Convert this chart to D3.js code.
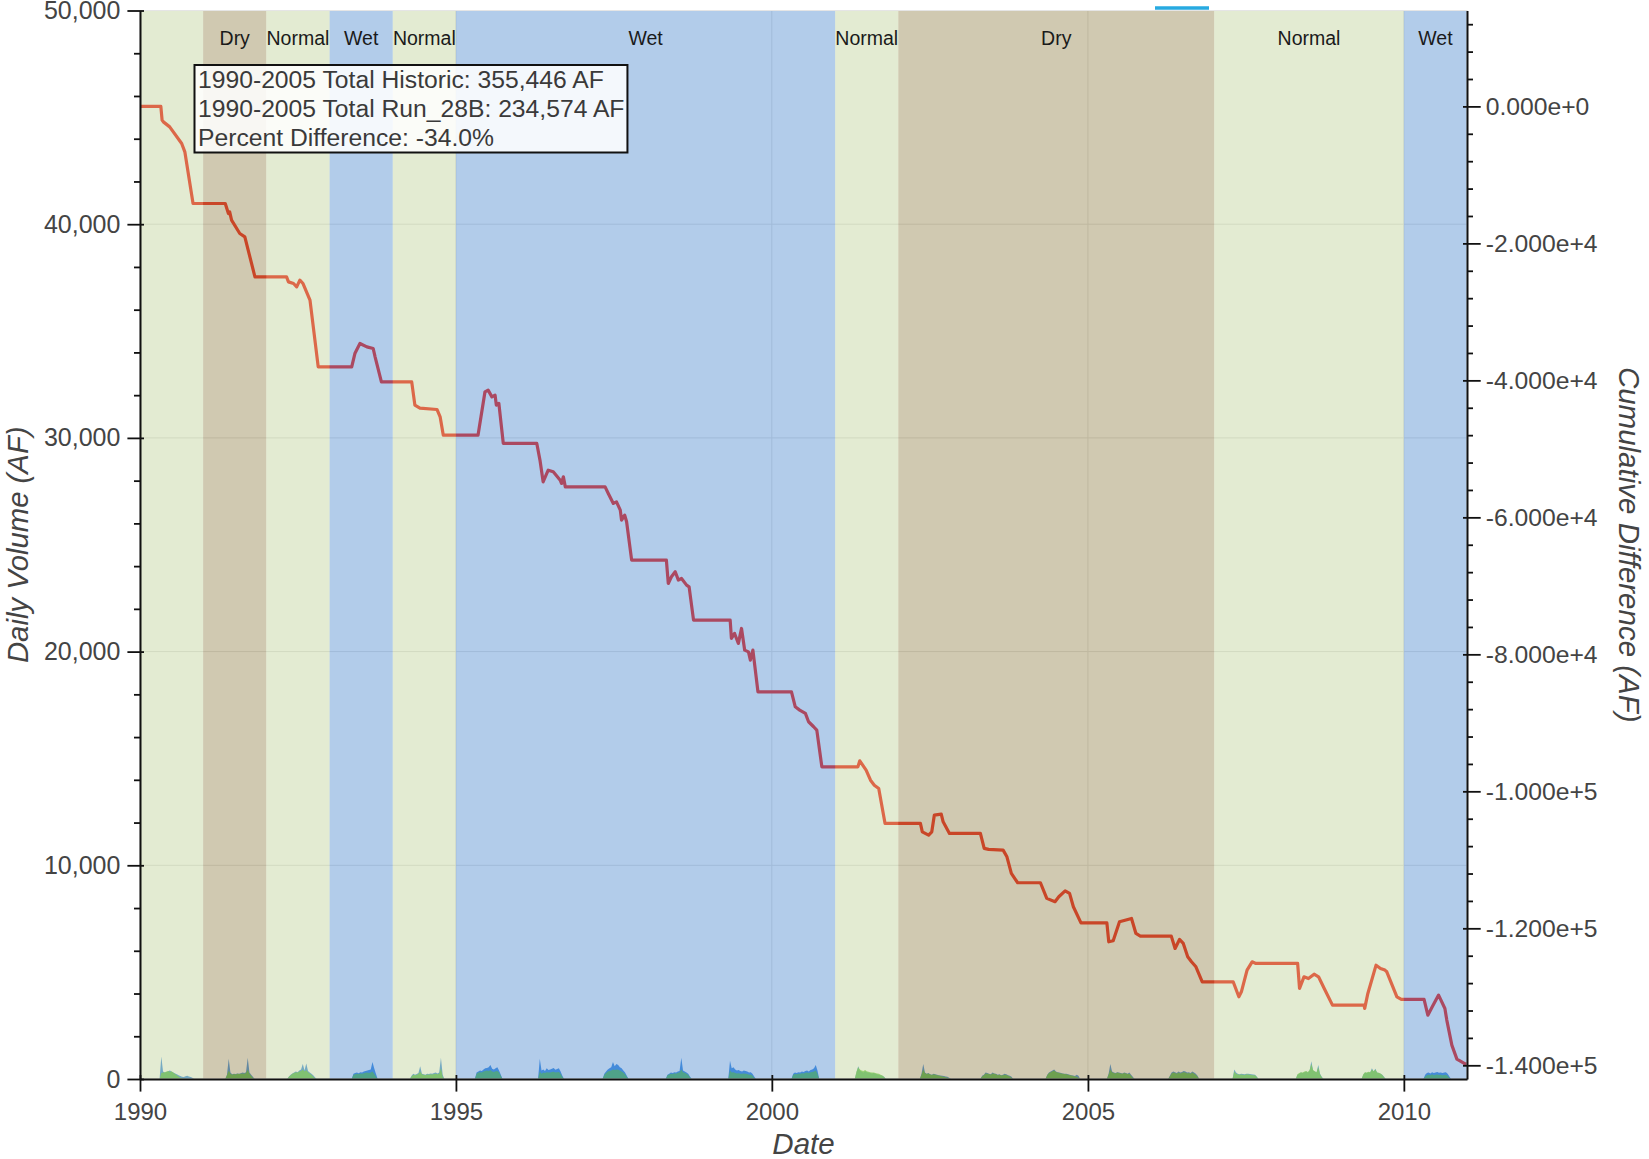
<!DOCTYPE html>
<html>
<head>
<meta charset="utf-8">
<script src="https://cdn.jsdelivr.net/npm/d3@7"></script>
<style>
  body { margin: 0; background: #fff; }
  text { font-family: "Liberation Sans", Arial, sans-serif; }
</style>
</head>
<body>
<svg id="chart" width="1649" height="1159"></svg>
<script>
// x ticks (years)
const yearTicks = [1990, 1995, 2000, 2005, 2010];

// water year type bands
const regionStart = [1990, 1991, 1992, 1993, 1994, 1995, 2001, 2002, 2007, 2010];
const regionEnd   = [1991, 1992, 1993, 1994, 1995, 2001, 2002, 2007, 2010, 2011];
const regionType  = ["Normal", "Dry", "Normal", "Wet", "Normal", "Wet", "Normal", "Dry", "Normal", "Wet"];
const regionLabel = ["", "Dry", "Normal", "Wet", "Normal", "Wet", "Normal", "Dry", "Normal", "Wet"];

// cumulative difference (AF), dates as decimal years
const diffYear = [
  1990.00, 1990.33, 1990.35, 1990.37, 1990.47, 1990.66, 1990.71, 1990.84,
  1991.35, 1991.40, 1991.42, 1991.45, 1991.58, 1991.66, 1991.82,
  1992.32, 1992.35, 1992.43, 1992.48, 1992.53, 1992.58, 1992.69, 1992.82,
  1993.35, 1993.40, 1993.48, 1993.59, 1993.69, 1993.72, 1993.82,
  1994.30, 1994.35, 1994.43, 1994.70, 1994.75, 1994.80,
  1995.35, 1995.46, 1995.51, 1995.57, 1995.62, 1995.64, 1995.68, 1995.75,
  1996.28, 1996.33, 1996.38, 1996.46, 1996.54, 1996.65, 1996.67, 1996.70, 1996.73,
  1997.36, 1997.41, 1997.49, 1997.54, 1997.60, 1997.62, 1997.67, 1997.70, 1997.78,
  1998.33, 1998.36, 1998.41, 1998.47, 1998.52, 1998.57, 1998.65, 1998.69, 1998.76,
  1999.34, 1999.36, 1999.41, 1999.47, 1999.52, 1999.57, 1999.63, 1999.66, 1999.70, 1999.78,
  2000.31, 2000.37, 2000.44, 2000.53, 2000.58, 2000.66, 2000.71, 2000.79,
  2001.36, 2001.39, 2001.49, 2001.56, 2001.62, 2001.69, 2001.79,
  2002.35, 2002.38, 2002.48, 2002.53, 2002.57, 2002.68, 2002.71, 2002.81,
  2003.30, 2003.36, 2003.43, 2003.66, 2003.72, 2003.79, 2003.89,
  2004.25, 2004.35, 2004.48, 2004.54, 2004.64, 2004.71, 2004.77, 2004.89,
  2005.30, 2005.33, 2005.40, 2005.50, 2005.69, 2005.76, 2005.83,
  2006.32, 2006.38, 2006.45, 2006.51, 2006.58, 2006.64, 2006.71, 2006.81,
  2007.30, 2007.39, 2007.43, 2007.52, 2007.60, 2007.66,
  2008.32, 2008.35, 2008.42, 2008.49, 2008.58, 2008.65, 2008.74, 2008.87,
  2009.37, 2009.38, 2009.43, 2009.56, 2009.63, 2009.70, 2009.73, 2009.89, 2009.96,
  2010.32, 2010.38, 2010.45, 2010.55, 2010.65, 2010.68, 2010.76, 2010.84, 2010.97, 2011.00
];
const diffValue = [
  0, 0, -2000, -2260, -2990, -5420, -6640, -14175,
  -14175, -15640, -15400, -16610, -18560, -19050, -24890,
  -24890, -25620, -25860, -26350, -25370, -25860, -28290, -38030,
  -38030, -36080, -34610, -35110, -35350, -36570, -40220,
  -40220, -43620, -44060, -44250, -45320, -48000,
  -48000, -41680, -41430, -42410, -42160, -43620, -43370, -49210,
  -49210, -51640, -54810, -53110, -53350, -54570, -55050, -54080, -55550,
  -55550, -56510, -57970, -57730, -58940, -60400, -59670, -60650, -66250,
  -66250, -69650, -68680, -67950, -69160, -68920, -69900, -70150, -75010,
  -75010, -77680, -76950, -78410, -76220, -79390, -79640, -80850, -79390, -85470,
  -85470, -87660, -88140, -88620, -89840, -90570, -91060, -96420,
  -96420, -95550, -96910, -98370, -99100, -99590, -104690,
  -104690, -105910, -106400, -105910, -103480, -103330, -104450, -106150,
  -106150, -108330, -108480, -108580, -109560, -111990, -113350,
  -113350, -115630, -116120, -115390, -114530, -114900, -116860, -119200,
  -119200, -121970, -121820, -119050, -118560, -120750, -121140,
  -121140, -122940, -121630, -122210, -124160, -124890, -125620, -127810,
  -127810, -130000, -129270, -126100, -124890, -125130,
  -125130, -128780, -127080, -127330, -126700, -127080, -128780, -131210,
  -131210, -131700, -129510, -125380, -125860, -126100, -126350, -130000, -130380,
  -130380, -132680, -131460, -129750, -131700, -133400, -137050, -139100, -139790, -139800
];

// daily volume pulses, 10-day samples starting at pulseStart (decimal year)
const pulseStart = [1990.31, 1991.35, 1992.33, 1993.35, 1994.27, 1995.30, 1996.30, 1997.32, 1998.32, 1999.31,
                    2000.31, 2001.31, 2002.34, 2003.30, 2004.33, 2005.30, 2006.27, 2007.29, 2008.29, 2009.33, 2010.31];
const historicPulses = [
  [0,1050,350,300,330,360,400,340,300,260,220,180,140,110,90,130,150,120,90,60,0],
  [0,200,950,300,220,250,230,260,240,270,300,280,320,1000,300,200,100,0],
  [0,120,200,260,300,350,320,400,450,700,400,720,380,300,250,180,80,0],
  [0,250,280,300,270,320,300,350,380,400,420,450,800,500,250,0],
  [0,150,250,200,230,280,600,250,220,200,240,230,260,250,280,300,260,300,1000,200,0],
  [0,300,350,400,380,450,500,520,550,650,480,450,500,550,400,200,0],
  [0,950,400,450,380,500,420,450,480,520,430,470,500,350,150,0],
  [0,250,350,450,500,550,800,600,700,650,550,500,400,300,150,0],
  [0,200,250,300,280,320,300,350,380,1000,400,350,300,250,120,0],
  [0,850,500,550,450,400,420,380,350,400,380,350,300,320,250,120,0],
  [0,250,300,280,320,300,350,330,380,400,350,420,450,500,650,400,0],
  [0,300,600,400,350,300,380,320,300,280,260,280,250,220,200,180,150,100,0],
  [0,250,700,300,250,280,220,200,240,220,200,180,160,150,140,120,100,60,0],
  [0,150,200,300,280,250,220,300,260,240,200,220,180,200,250,220,180,150,100,0],
  [0,200,300,350,400,450,350,320,300,280,260,250,240,220,200,180,160,140,200,150,0],
  [0,250,700,350,300,280,320,300,280,260,300,280,250,300,200,100,0],
  [0,150,300,350,320,280,350,300,330,380,350,300,320,280,350,300,250,150,0],
  [0,450,300,250,220,240,230,220,250,240,230,220,210,200,120,0],
  [0,200,250,300,280,320,350,300,400,830,400,350,300,650,250,100,0],
  [0,200,300,280,320,300,500,350,480,300,280,250,200,100,0],
  [0,200,280,300,260,320,280,300,330,290,310,280,300,320,250,120,0]
];
const runPulses = [
  [0,280,300,320,350,380,330,360,290,230,180,120,60,30,20,10,0,0,0,0,0],
  [0,180,400,250,200,230,210,240,230,250,260,250,280,450,250,150,60,0],
  [0,100,180,240,280,320,300,350,380,450,350,420,320,260,200,120,40,0],
  [0,200,220,240,230,260,250,270,290,300,280,300,350,250,120,0],
  [0,120,200,180,200,230,350,220,200,180,210,200,220,210,230,250,220,240,500,100,0],
  [0,250,300,320,300,350,380,400,380,420,350,330,360,380,300,150,0],
  [0,350,250,300,280,320,300,310,330,340,300,320,330,250,100,0],
  [0,200,280,350,380,400,450,420,450,430,400,350,300,220,100,0],
  [0,170,210,250,230,270,250,290,310,450,320,290,250,200,80,0],
  [0,400,300,320,280,260,270,250,240,260,250,230,200,210,160,60,0],
  [0,200,230,220,250,240,270,260,290,300,280,320,330,350,400,250,0],
  [0,350,550,450,400,380,420,360,340,320,300,310,280,260,240,200,160,90,0],
  [0,200,450,280,230,260,210,190,220,200,180,160,140,120,100,80,60,30,0],
  [0,120,180,260,250,230,200,260,240,220,180,200,160,180,200,190,150,120,60,0],
  [0,180,280,320,360,400,330,300,280,260,240,230,220,200,180,160,140,120,100,60,0],
  [0,200,450,320,280,260,300,280,260,240,280,260,230,250,150,60,0],
  [0,120,260,300,280,250,300,260,290,320,300,260,280,240,300,250,200,100,0],
  [0,350,250,220,200,210,200,190,220,210,200,190,180,170,90,0],
  [0,220,280,320,300,350,380,330,420,700,420,360,320,550,220,80,0],
  [0,220,320,300,340,320,450,360,440,310,290,260,190,80,0],
  [0,120,180,200,170,220,180,200,210,190,200,180,190,200,150,60,0]
];

const leftTicks = [0, 10000, 20000, 30000, 40000, 50000];
const rightTicks = [0, -20000, -40000, -60000, -80000, -100000, -120000, -140000];

const summaryLines = [
  "1990-2005 Total Historic: 355,446 AF",
  "1990-2005 Total Run_28B: 234,574 AF",
  "Percent Difference: -34.0%"
];

const regionColors = { Normal: "rgb(175,198,126)", Dry: "rgb(121,101,32)", Wet: "rgb(35,109,195)" };

function yearToDate(y) {
  const yr = Math.floor(y);
  const a = new Date(yr, 0, 1), b = new Date(yr + 1, 0, 1);
  return new Date(+a + (y - yr) * (b - a));
}

function buildChart() {
  const width = 1649, height = 1159;
  const margin = { top: 10.5, right: 182, bottom: 80, left: 140 };
  const svg = d3.select("#chart");

  const x = d3.scaleTime()
    .domain([yearToDate(1990), yearToDate(2011)])
    .range([margin.left, width - margin.right]);
  const yLeft = d3.scaleLinear()
    .domain([0, 50000])
    .range([height - margin.bottom, margin.top]);
  const yRight = d3.scaleLinear()
    .domain([-142000, 14000])
    .range([height - margin.bottom, margin.top]);

  // grid
  const grid = svg.append("g").attr("stroke", "#e5e5e5").attr("stroke-width", 1);
  grid.selectAll(".hg").data(leftTicks).join("line")
    .attr("x1", margin.left).attr("x2", width - margin.right)
    .attr("y1", d => yLeft(d)).attr("y2", d => yLeft(d));
  grid.selectAll(".vg").data(yearTicks).join("line")
    .attr("x1", d => x(yearToDate(d))).attr("x2", d => x(yearToDate(d)))
    .attr("y1", margin.top).attr("y2", height - margin.bottom);

  // daily volume areas
  const area = d3.area()
    .x(d => x(d.date))
    .y0(yLeft(0))
    .y1(d => yLeft(d.v));
  const toPoints = (vals, i) => vals.map((v, j) => ({ date: yearToDate(pulseStart[i] + j * 10 / 365.25), v }));

  svg.append("g").selectAll("path").data(historicPulses).join("path")
    .attr("fill", "rgb(45,130,225)")
    .attr("fill-opacity", 0.8)
    .attr("d", (vals, i) => area(toPoints(vals, i)));
  svg.append("g").selectAll("path").data(runPulses).join("path")
    .attr("fill", "rgb(110,205,65)")
    .attr("fill-opacity", 0.75)
    .attr("d", (vals, i) => area(toPoints(vals, i)));

  // cumulative difference line
  const diffData = diffYear.map((yr, i) => ({ date: yearToDate(yr), v: diffValue[i] }));
  const line = d3.line()
    .x(d => x(d.date))
    .y(d => yRight(d.v));
  svg.append("path")
    .datum(diffData)
    .attr("fill", "none")
    .attr("stroke", "rgb(245,55,45)")
    .attr("stroke-width", 3.2)
    .attr("stroke-linejoin", "round")
    .attr("d", line);

  // year type overlays
  const regions = regionStart.map((s, i) => ({ s, e: regionEnd[i], type: regionType[i], label: regionLabel[i] }));
  svg.append("g").selectAll("rect").data(regions).join("rect")
    .attr("x", d => x(yearToDate(d.s)))
    .attr("width", d => x(yearToDate(d.e)) - x(yearToDate(d.s)))
    .attr("y", margin.top)
    .attr("height", height - margin.bottom - margin.top)
    .attr("fill", d => regionColors[d.type])
    .attr("fill-opacity", 0.35);

  svg.append("g").selectAll("text").data(regions).join("text")
    .attr("x", d => (x(yearToDate(d.s)) + x(yearToDate(d.e))) / 2)
    .attr("y", 45)
    .attr("text-anchor", "middle")
    .attr("font-size", 19.5)
    .attr("fill", "#1a1a1a")
    .text(d => d.label);

  // plot outline
  svg.append("rect")
    .attr("x", margin.left).attr("y", margin.top)
    .attr("width", width - margin.left - margin.right)
    .attr("height", height - margin.top - margin.bottom)
    .attr("fill", "none").attr("stroke", "#e5e5e5");

  // summary box
  const box = svg.append("g");
  const boxRect = box.append("rect");
  const boxText = box.append("text")
    .attr("x", 198).attr("font-size", 24.7).attr("fill", "#3a3a3a");
  boxText.selectAll("tspan").data(summaryLines).join("tspan")
    .attr("x", 198)
    .attr("y", (d, i) => 88 + i * 29)
    .text(d => d);
  const bb = boxText.node().getBBox();
  boxRect
    .attr("x", 194.5).attr("y", 65)
    .attr("width", bb.x + bb.width - 194.5 + 3)
    .attr("height", 87.5)
    .attr("fill", "#fff").attr("fill-opacity", 0.85)
    .attr("stroke", "#111").attr("stroke-width", 2);

  // legend remnant at top
  svg.append("line")
    .attr("x1", 1155).attr("x2", 1209).attr("y1", 8).attr("y2", 8)
    .attr("stroke", "rgb(39,170,225)").attr("stroke-width", 3.5);

  // axes
  const styleAxis = (g, inner, size) => {
    g.select(".domain").attr("stroke", "#111").attr("stroke-width", 2);
    g.selectAll(".tick line").attr("stroke", "#111").attr("stroke-width", 1.8);
    g.selectAll(".tick text").attr("fill", "#444").attr("font-size", size)
      .attr("font-family", "'Liberation Sans', Arial, sans-serif");
    if (inner) inner(g);
  };
  const minorStyle = g => {
    g.select(".domain").remove();
    g.selectAll(".tick line").attr("stroke", "#111").attr("stroke-width", 1.8);
  };

  svg.append("g")
    .attr("transform", `translate(${margin.left},0)`)
    .call(d3.axisLeft(yLeft).tickValues(d3.range(0, 50001, 2000).filter(v => v % 10000))
      .tickSize(6).tickSizeOuter(0).tickFormat(""))
    .call(minorStyle);
  svg.append("g")
    .attr("transform", `translate(${margin.left},0)`)
    .call(d3.axisLeft(yLeft).tickValues(leftTicks).tickSize(12.6).tickSizeOuter(0)
      .tickPadding(7).tickFormat(d3.format(",")))
    .call(g => styleAxis(g, g => g.selectAll(".tick line").attr("x1", 4), 25));

  const sci = d3.format(".3e");
  svg.append("g")
    .attr("transform", `translate(${width - margin.right},0)`)
    .call(d3.axisRight(yRight).tickValues(d3.range(-140000, 14000, 4000).filter(v => v % 20000))
      .tickSize(6).tickSizeOuter(0).tickFormat(""))
    .call(minorStyle);
  svg.append("g")
    .attr("transform", `translate(${width - margin.right},0)`)
    .call(d3.axisRight(yRight).tickValues(rightTicks).tickSize(13.7).tickSizeOuter(0)
      .tickPadding(5).tickFormat(d => sci(d).replace("\u2212", "-")))
    .call(g => styleAxis(g, g => g.selectAll(".tick line").attr("x1", -4), 24.7));

  svg.append("g")
    .attr("transform", `translate(0,${height - margin.bottom})`)
    .call(d3.axisBottom(x).tickValues(yearTicks.map(yearToDate)).tickSize(12.6).tickSizeOuter(0)
      .tickPadding(11).tickFormat(d3.timeFormat("%Y")))
    .call(g => styleAxis(g, g => g.selectAll(".tick line").attr("y1", -4), 24));

  // axis titles
  svg.append("text")
    .attr("x", (margin.left + width - margin.right) / 2).attr("y", 1154)
    .attr("text-anchor", "middle").attr("font-size", 29.5).attr("font-style", "italic")
    .attr("fill", "#444").text("Date");
  svg.append("text")
    .attr("transform", `translate(28,${(margin.top + height - margin.bottom) / 2}) rotate(-90)`)
    .attr("text-anchor", "middle").attr("font-size", 29.3).attr("font-style", "italic")
    .attr("fill", "#444").text("Daily Volume (AF)");
  svg.append("text")
    .attr("transform", `translate(1619,${(margin.top + height - margin.bottom) / 2}) rotate(90)`)
    .attr("text-anchor", "middle").attr("font-size", 29.5).attr("font-style", "italic")
    .attr("fill", "#444").text("Cumulative Difference (AF)");
}

buildChart();
</script>
</body>
</html>
